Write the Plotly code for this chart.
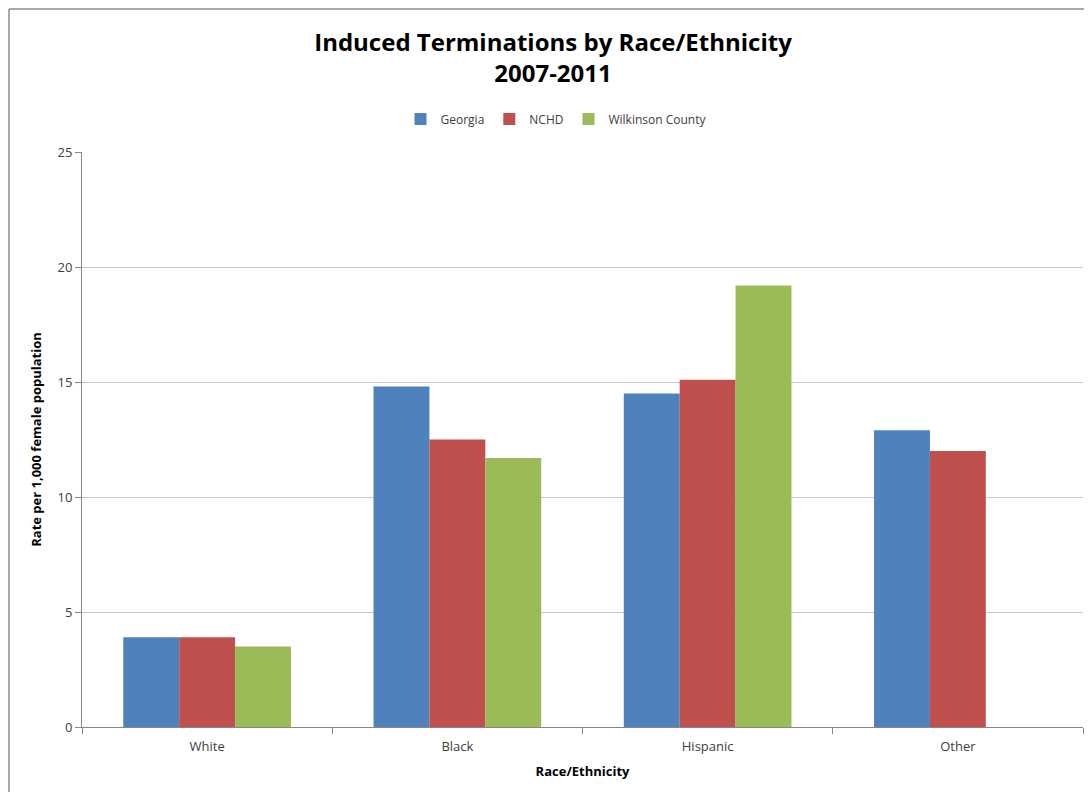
import plotly.graph_objects as go

# Data
CATEGORIES = ["White", "Black", "Hispanic", "Other"]
GEORGIA = [3.9, 14.8, 14.5, 12.9]
NCHD = [3.9, 12.5, 15.1, 12.0]
WILKINSON = [3.5, 11.7, 19.2, None]

BLUE = "#4F81BD"
RED = "#C0504D"
GREEN = "#9BBB59"
TEXT = "#404040"
FONT = "Open Sans"

fig = go.Figure()
for name, values, color in [
    ("Georgia", GEORGIA, BLUE),
    ("NCHD", NCHD, RED),
    ("Wilkinson County", WILKINSON, GREEN),
]:
    fig.add_trace(
        go.Bar(
            x=CATEGORIES,
            y=values,
            name=name,
            marker=dict(color=color, line=dict(width=0)),
        )
    )

# Page body adds an 8px offset, so figure coords = screenshot coords - 8
OFF = 8
L, T, W, H = 82 - OFF, 152 - OFF, 1001, 575


def fx(p):
    # figure pixel -> paper x
    return (p - L) / W


def fy(p):
    # figure pixel -> paper y
    return 1 - (p - T) / H


# Outer chart border (left and top edges), drawn at the figure's own edge
for x0, y0, x1, y1 in [(1, 1, 1, 800), (1, 1, 1100, 1)]:
    fig.add_shape(
        type="line",
        xref="paper",
        yref="paper",
        x0=fx(x0),
        x1=fx(x1),
        y0=fy(y0),
        y1=fy(y1),
        line=dict(color="#8c8c8c", width=1.5),
    )

fig.update_layout(
    width=1092,
    height=792,
    barmode="group",
    bargap=0.33,
    bargroupgap=0,
    plot_bgcolor="white",
    paper_bgcolor="white",
    font=dict(family=FONT, color=TEXT, size=13),
    margin=dict(l=L, r=1092 - L - W, t=T, b=792 - T - H, autoexpand=False),
    title=dict(
        text="<b>Induced Terminations by Race/Ethnicity<br>2007-2011</b>",
        x=(553 - OFF) / 1092,
        xanchor="center",
        xref="container",
        y=1 - (51 - OFF) / 792,
        yanchor="middle",
        yref="container",
        font=dict(family=FONT, size=24, color="black"),
    ),
    legend=dict(
        orientation="h",
        x=fx(556 - OFF),
        xanchor="center",
        y=fy(119 - OFF),
        yanchor="middle",
        font=dict(size=12, color=TEXT),
        traceorder="normal",
        itemwidth=30,
    ),
    xaxis=dict(
        title=dict(text="<b>Race/Ethnicity</b>", font=dict(size=13, color="black"), standoff=13),
        showline=True,
        linecolor="#868686",
        ticks="outside",
        tickson="boundaries",
        ticklen=6,
        tickcolor="#868686",
        ticklabelstandoff=7,
        showgrid=False,
        tickfont=dict(size=13, color=TEXT),
    ),
    yaxis=dict(
        title=dict(text="<b>Rate per 1,000 female population</b>", font=dict(size=13, color="black"), standoff=12),
        range=[0, 25],
        dtick=5,
        showline=True,
        linecolor="#868686",
        ticks="outside",
        ticklen=6,
        tickcolor="#868686",
        gridcolor="#c8c8c8",
        zeroline=False,
        tickfont=dict(size=13, color=TEXT),
    ),
)

fig.write_html("out.html")
